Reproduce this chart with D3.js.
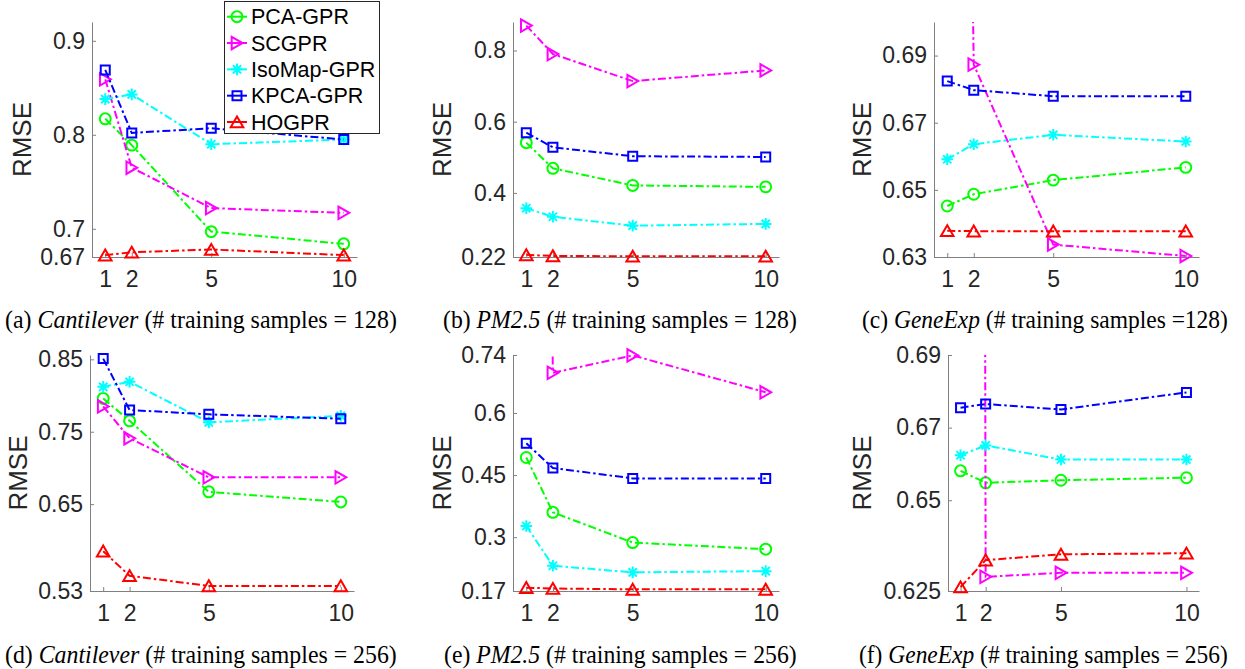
<!DOCTYPE html>
<html>
<head>
<meta charset="utf-8">
<script src="https://cdn.jsdelivr.net/npm/d3@7/dist/d3.min.js"></script>
<style>
    body { margin: 0; background: #fff; }
    svg { display: block; }
</style>
</head>
<body>
<div class="viz"></div>
<script>

// x values (number of ... per run) shared by every panel
const xValues = [1, 2, 5, 10];
const methods = ["PCA-GPR", "SCGPR", "IsoMap-GPR", "KPCA-GPR", "HOGPR"];
const colors = ["#00ff00", "#ff00ff", "#00ffff", "#0000ff", "#ff0000"];

// RMSE per method (rows follow `methods`)
const cantilever128 = [
    [0.817, 0.789, 0.697, 0.684],
    [0.859, 0.765, 0.722, 0.717],
    [0.838, 0.843, 0.790, 0.795],
    [0.869, 0.802, 0.807, 0.795],
    [0.672, 0.675, 0.678, 0.672]
];
const pm25_128 = [
    [0.541, 0.469, 0.421, 0.417],
    [0.870, 0.790, 0.714, 0.744],
    [0.357, 0.333, 0.308, 0.313],
    [0.569, 0.528, 0.503, 0.501],
    [0.226, 0.223, 0.222, 0.222]
];
const geneExp128 = [
    [0.6452, 0.6487, 0.6529, 0.6567],
    [1.2, 0.6873, 0.6337, 0.6303],
    [0.6591, 0.6636, 0.6664, 0.6644],
    [0.6824, 0.6797, 0.6779, 0.6779],
    [0.6378, 0.6377, 0.6377, 0.6377]
];
const cantilever256 = [
    [0.796, 0.765, 0.667, 0.653],
    [0.785, 0.741, 0.687, 0.687],
    [0.812, 0.819, 0.763, 0.772],
    [0.851, 0.780, 0.774, 0.768],
    [0.585, 0.551, 0.537, 0.537]
];
const pm25_256 = [
    [0.4925, 0.360, 0.287, 0.271],
    [5.0, 0.697, 0.739, 0.650],
    [0.327, 0.231, 0.215, 0.218],
    [0.527, 0.467, 0.442, 0.442],
    [0.178, 0.176, 0.174, 0.174]
];
const geneExp256 = [
    [0.6581, 0.6548, 0.6555, 0.6562],
    [4.0, 0.6289, 0.6300, 0.6300],
    [0.6624, 0.6651, 0.6612, 0.6612],
    [0.6755, 0.6765, 0.6750, 0.6797],
    [0.6261, 0.6335, 0.6351, 0.6354]
];

// y tick labels per panel
const ticksA = [0.67, 0.7, 0.8, 0.9];
const ticksB = [0.22, 0.4, 0.6, 0.8];
const ticksC = [0.63, 0.65, 0.67, 0.69];
const ticksD = [0.53, 0.65, 0.75, 0.85];
const ticksE = [0.17, 0.3, 0.45, 0.6, 0.74];
const ticksF = [0.625, 0.65, 0.67, 0.69];

const captionTags = ["(a) ", "(b) ", "(c) ", "(d) ", "(e) ", "(f) "];
const captionNames = ["Cantilever", "PM2.5", "GeneExp", "Cantilever", "PM2.5", "GeneExp"];
const captionRest = [" (# training samples = 128)", " (# training samples = 128)", " (# training samples =128)",
    " (# training samples = 256)", " (# training samples = 256)", " (# training samples = 256)"];

var panels = [
    { data: cantilever128, ticks: ticksA, top: 0.92, x0: 92, x1: 357, y0: 22, y1: 257, lx: 22, cx0: 5, cx1: 397, cy: 328 },
    { data: pm25_128, ticks: ticksB, top: 0.88, x0: 513, x1: 779, y0: 22, y1: 257, lx: 442, cx0: 443, cx1: 797, cy: 328 },
    { data: geneExp128, ticks: ticksC, top: 0.70, x0: 934, x1: 1199, y0: 22, y1: 257, lx: 862, cx0: 862, cx1: 1228, cy: 328 },
    { data: cantilever256, ticks: ticksD, top: 0.856, x0: 90, x1: 354, y0: 355, y1: 591, lx: 18, cx0: 5, cx1: 397, cy: 663 },
    { data: pm25_256, ticks: ticksE, top: 0.74, x0: 513, x1: 779, y0: 355, y1: 591, lx: 442, cx0: 444, cx1: 797, cy: 663 },
    { data: geneExp256, ticks: ticksF, top: 0.69, x0: 948, x1: 1199, y0: 355, y1: 591, lx: 862, cx0: 859, cx1: 1228, cy: 663 }
];

var canvas = d3.select(".viz")
    .append("svg")
    .attr("width", 1245)
    .attr("height", 669);

var axisColor = "#808080";
var textColor = "#262626";
var sans = "'Liberation Sans', Arial, Helvetica, sans-serif";
var dash = "8,3,2.5,3";
var lw = 2;

// marker shapes, same order as methods
function markerPath(k) {
    if (k == 0) return d3.symbol().type(d3.symbolCircle).size(Math.PI * 30)();
    if (k == 1) return "M-5.3,-6.2L5.5,0L-5.3,6.2Z";
    if (k == 2) return "M-5.8,0L5.8,0M0,-5.8L0,5.8M-4.1,-4.1L4.1,4.1M-4.1,4.1L4.1,-4.1";
    if (k == 3) return "M-4.5,-4.5L4.5,-4.5L4.5,4.5L-4.5,4.5Z";
    return "M0,-5.6L6.3,5.3L-6.3,5.3Z";
}

panels.forEach(function (p, pi) {
    var x = d3.scaleLinear().domain([0.5, 10.5]).range([p.x0, p.x1]);
    var y = d3.scaleLinear().domain([p.ticks[0], p.top]).range([p.y1, p.y0]);

    var g = canvas.append("g");

    g.append("clipPath").attr("id", "clip" + pi)
        .append("rect")
        .attr("x", p.x0).attr("y", p.y0)
        .attr("width", p.x1 - p.x0).attr("height", p.y1 - p.y0);

    var yAxis = g.append("g")
        .attr("transform", `translate(${p.x0},0)`)
        .call(d3.axisLeft(y).tickValues(p.ticks).tickSize(-4).tickSizeOuter(0).tickPadding(7).tickFormat(String));
    var xAxis = g.append("g")
        .attr("transform", `translate(0,${p.y1})`)
        .call(d3.axisBottom(x).tickValues(xValues).tickSize(-4).tickSizeOuter(0).tickPadding(14).tickFormat(String));

    [yAxis, xAxis].forEach(function (a) {
        a.selectAll("path, line").attr("stroke", axisColor).attr("stroke-width", 1);
        a.selectAll("text").attr("fill", textColor).style("font", `23px ${sans}`);
    });

    g.append("text")
        .attr("transform", `translate(${p.lx},${(p.y0 + p.y1) / 2}) rotate(-90)`)
        .attr("text-anchor", "middle")
        .attr("dy", "0.36em")
        .attr("fill", textColor)
        .style("font", `26px ${sans}`)
        .text("RMSE");

    p.data.forEach(function (vals, k) {
        var pts = vals.map(function (v, i) { return { x: xValues[i], y: v }; });

        g.append("path")
            .datum(pts)
            .attr("clip-path", `url(#clip${pi})`)
            .attr("fill", "none")
            .attr("stroke", colors[k])
            .attr("stroke-width", lw)
            .attr("stroke-dasharray", dash)
            .attr("d", d3.line().x(function (d) { return x(d.x); }).y(function (d) { return y(d.y); }));

        g.selectAll(null)
            .data(pts.filter(function (d) { return d.y <= p.top; }))
            .enter()
            .append("path")
            .attr("transform", function (d) { return `translate(${x(d.x)},${y(d.y)})`; })
            .attr("d", markerPath(k))
            .attr("fill", "none")
            .attr("stroke", colors[k])
            .attr("stroke-width", lw);
    });

    // caption under the panel, squeezed to the width it has in the figure
    var cap = canvas.append("text")
        .attr("fill", "#000")
        .style("font", "26px 'Liberation Serif', 'Times New Roman', serif");
    cap.append("tspan").text(captionTags[pi]);
    cap.append("tspan").style("font-style", "italic").text(captionNames[pi]);
    cap.append("tspan").text(captionRest[pi]);
    var w = cap.node().getComputedTextLength();
    cap.attr("transform", `translate(${p.cx0},${p.cy}) scale(${(p.cx1 - p.cx0) / w},1)`);
});

// legend sits on top of panel (a)
var legend = canvas.append("g");
legend.append("rect")
    .attr("x", 224.5).attr("y", 1.5)
    .attr("width", 155).attr("height", 132)
    .attr("fill", "#fff")
    .attr("stroke", textColor)
    .attr("stroke-width", 1);

var rowY = d3.scaleLinear().domain([0, 4]).range([16.7, 122]);
methods.forEach(function (m, k) {
    var ly = rowY(k);
    legend.append("line")
        .attr("x1", 227).attr("x2", 247)
        .attr("y1", ly).attr("y2", ly)
        .attr("stroke", colors[k])
        .attr("stroke-width", lw);
    legend.append("path")
        .attr("transform", `translate(237,${ly})`)
        .attr("d", markerPath(k))
        .attr("fill", "none")
        .attr("stroke", colors[k])
        .attr("stroke-width", lw);
    legend.append("text")
        .attr("x", 251).attr("y", ly)
        .attr("dy", "0.36em")
        .attr("fill", "#000")
        .style("font", `21.5px ${sans}`)
        .text(m);
});

</script>
</body>
</html>
